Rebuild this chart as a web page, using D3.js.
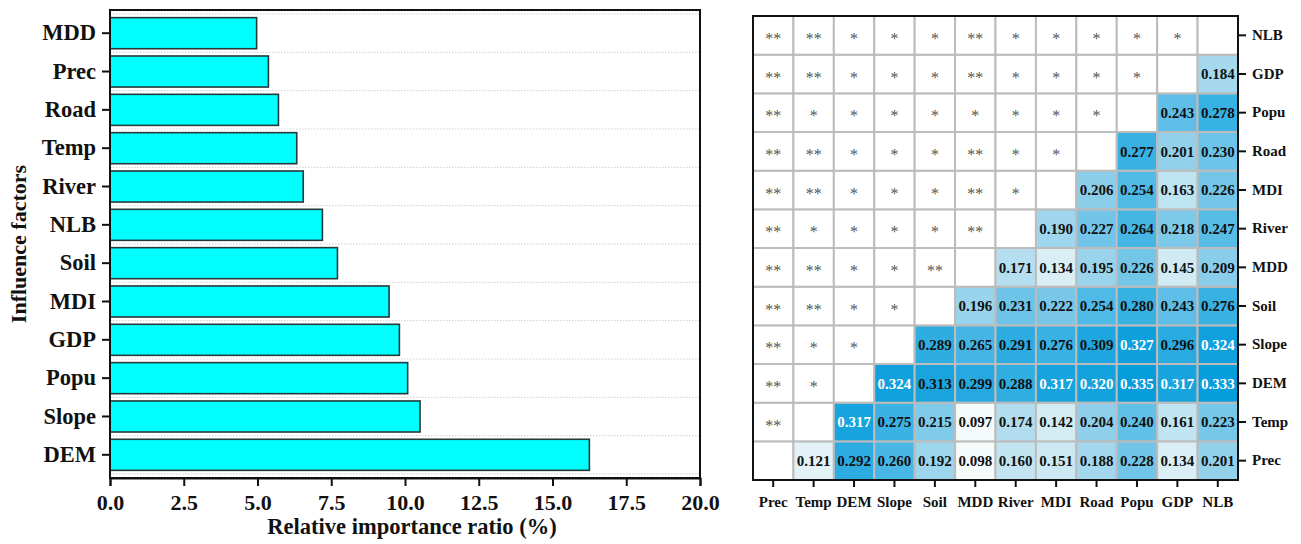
<!DOCTYPE html>
<html><head><meta charset="utf-8">
<script src="https://cdn.jsdelivr.net/npm/d3@7"></script>
<style>
html,body{margin:0;padding:0;background:#fff;}
svg{display:block;font-family:"Liberation Serif","Times New Roman",serif;}
</style></head>
<body><svg id="c" width="1301" height="544"></svg>
<script>
// ---------- data ----------
const barFactors = ["MDD","Prec","Road","Temp","River","NLB","Soil","MDI","GDP","Popu","Slope","DEM"];
const barValues  = [4.97, 5.37, 5.71, 6.33, 6.55, 7.20, 7.71, 9.46, 9.81, 10.09, 10.51, 16.25];
const xTicks = [0, 2.5, 5, 7.5, 10, 12.5, 15, 17.5, 20];

const hmVars = ["Prec","Temp","DEM","Slope","Soil","MDD","River","MDI","Road","Popu","GDP","NLB"];
// lower triangle values: row variable -> values for columns after it (in hmVars order)
const valPrec  = [0.121,0.292,0.260,0.192,0.098,0.160,0.151,0.188,0.228,0.134,0.201];
const valTemp  = [0.317,0.275,0.215,0.097,0.174,0.142,0.204,0.240,0.161,0.223];
const valDEM   = [0.324,0.313,0.299,0.288,0.317,0.320,0.335,0.317,0.333];
const valSlope = [0.289,0.265,0.291,0.276,0.309,0.327,0.296,0.324];
const valSoil  = [0.196,0.231,0.222,0.254,0.280,0.243,0.276];
const valMDD   = [0.171,0.134,0.195,0.226,0.145,0.209];
const valRiver = [0.190,0.227,0.264,0.218,0.247];
const valMDI   = [0.206,0.254,0.163,0.226];
const valRoad  = [0.277,0.201,0.230];
const valPopu  = [0.243,0.278];
const valGDP   = [0.184];
const valNLB   = [];
// significance marks: row variable -> marks for columns before it
const sigPrec  = [];
const sigTemp  = ["**"];
const sigDEM   = ["**","*"];
const sigSlope = ["**","*","*"];
const sigSoil  = ["**","**","*","*"];
const sigMDD   = ["**","**","*","*","**"];
const sigRiver = ["**","*","*","*","*","**"];
const sigMDI   = ["**","**","*","*","*","**","*"];
const sigRoad  = ["**","**","*","*","*","**","*","*"];
const sigPopu  = ["**","*","*","*","*","*","*","*","*"];
const sigGDP   = ["**","**","*","*","*","**","*","*","*","*"];
const sigNLB   = ["**","**","*","*","*","**","*","*","*","*","*"];

const valRows = [valPrec,valTemp,valDEM,valSlope,valSoil,valMDD,valRiver,valMDI,valRoad,valPopu,valGDP,valNLB];
const sigRows = [sigPrec,sigTemp,sigDEM,sigSlope,sigSoil,sigMDD,sigRiver,sigMDI,sigRoad,sigPopu,sigGDP,sigNLB];

const svg = d3.select("#c");

// ---------- left bar chart ----------
const L = {l:110, r:700, t:10, b:478};
const x = d3.scaleLinear().domain([0,20]).range([L.l, L.r]);
const y = d3.scaleBand().domain(barFactors).range([L.t, L.b]).paddingInner(0.19).paddingOuter(0.2);

const left = svg.append("g");
const gridYs = barFactors.map(f => y(f) - y.step()*y.paddingInner()/2)
  .concat([y(barFactors[barFactors.length-1]) + y.bandwidth() + y.step()*y.paddingInner()/2]);
left.selectAll("line.grid").data(gridYs).join("line")
  .attr("x1", L.l).attr("x2", L.r).attr("y1", d=>d).attr("y2", d=>d)
  .attr("stroke","#cfcfcf").attr("stroke-width",1).attr("stroke-dasharray","1.5,1.5");

left.selectAll("rect.bar").data(barFactors).join("rect")
  .attr("x", x(0)).attr("y", d=>y(d))
  .attr("width", (d,i)=>x(barValues[i])-x(0)).attr("height", y.bandwidth())
  .attr("fill","#00FFFF").attr("stroke","#263a3a").attr("stroke-width",1.6);

left.append("rect").attr("x",L.l).attr("y",L.t).attr("width",L.r-L.l).attr("height",L.b-L.t)
  .attr("fill","none").attr("stroke","#111").attr("stroke-width",2);

const xAx = left.append("g").attr("transform",`translate(0,${L.b})`)
  .call(d3.axisBottom(x).tickValues(xTicks).tickFormat(d3.format(".1f")).tickSizeOuter(0).tickSize(8).tickPadding(8));
xAx.select(".domain").attr("stroke","#111").attr("stroke-width",2);
xAx.selectAll(".tick line").attr("stroke","#111").attr("stroke-width",2);
xAx.selectAll("text").attr("font-size",22).attr("font-weight","bold").attr("fill","#111")
  .attr("font-family","Liberation Serif");

const yAx = left.append("g").attr("transform",`translate(${L.l},0)`)
  .call(d3.axisLeft(y).tickSizeOuter(0).tickSize(8).tickPadding(6));
yAx.select(".domain").remove();
yAx.selectAll(".tick line").attr("stroke","#111").attr("stroke-width",2);
yAx.selectAll("text").attr("font-size",22.5).attr("font-weight","bold").attr("fill","#111")
  .attr("font-family","Liberation Serif");

left.append("text").attr("x",412).attr("y",534).attr("text-anchor","middle")
  .attr("font-size",22.5).attr("font-weight","bold").attr("fill","#111").text("Relative importance ratio (%)");
left.append("text").attr("transform",`translate(26,${(L.t+L.b)/2}) rotate(-90)`).attr("text-anchor","middle")
  .attr("font-size",22).attr("font-weight","bold").attr("fill","#111").text("Influence factors");

// ---------- right heatmap ----------
const H = {l:753, r:1238, t:16, b:480};
const hx = d3.scaleBand().domain(hmVars).range([H.l, H.r]);
const hy = d3.scaleBand().domain(hmVars.slice().reverse()).range([H.t, H.b]);
const color = d3.scaleLinear().domain([0.095,0.15,0.20,0.26,0.33])
  .range(["#f7fbfb","#cde9f3","#94d1eb","#48b7e5","#0b9edc"]);

const cells = [];
hmVars.forEach((rv, i) => {
  hmVars.forEach((cv, j) => {
    if (j > i) cells.push({r:rv, c:cv, v:valRows[i][j-i-1], type:"val"});
    else if (j < i) cells.push({r:rv, c:cv, s:sigRows[i][j], type:"sig"});
    else cells.push({r:rv, c:cv, type:"diag"});
  });
});

const hm = svg.append("g");
hm.selectAll("rect.cell").data(cells).join("rect")
  .attr("x", d=>hx(d.c)).attr("y", d=>hy(d.r))
  .attr("width", hx.bandwidth()).attr("height", hy.bandwidth())
  .attr("fill", d=> d.type==="val" ? color(d.v) : "#ffffff")
  .attr("stroke","#bcbcbc").attr("stroke-width",2);

hm.selectAll("text.val").data(cells.filter(d=>d.type==="val")).join("text")
  .attr("x", d=>hx(d.c)+hx.bandwidth()/2).attr("y", d=>hy(d.r)+hy.bandwidth()/2)
  .attr("dy","0.36em").attr("text-anchor","middle")
  .attr("font-size",15).attr("font-weight","bold")
  .attr("fill", d=> d.v > 0.315 ? "#ffffff" : "#111")
  .text(d=>d3.format(".3f")(d.v));

hm.selectAll("text.sig").data(cells.filter(d=>d.type==="sig")).join("text")
  .attr("x", d=>hx(d.c)+hx.bandwidth()/2).attr("y", d=>hy(d.r)+hy.bandwidth()/2)
  .attr("dy","0.55em").attr("text-anchor","middle")
  .attr("font-size",16).attr("fill","#555")
  .text(d=>d.s);

hm.append("rect").attr("x",H.l).attr("y",H.t).attr("width",H.r-H.l).attr("height",H.b-H.t)
  .attr("fill","none").attr("stroke","#111").attr("stroke-width",2);

const hxAx = hm.append("g").attr("transform",`translate(0,${H.b})`)
  .call(d3.axisBottom(hx).tickSizeOuter(0).tickSize(7).tickPadding(9));
hxAx.select(".domain").remove();
hxAx.selectAll(".tick line").attr("stroke","#111").attr("stroke-width",2);
hxAx.selectAll("text").attr("font-size",15).attr("font-weight","bold").attr("fill","#111")
  .attr("font-family","Liberation Serif");

const hyAx = hm.append("g").attr("transform",`translate(${H.r},0)`)
  .call(d3.axisRight(hy).tickSizeOuter(0).tickSize(8).tickPadding(6));
hyAx.select(".domain").remove();
hyAx.selectAll(".tick line").attr("stroke","#111").attr("stroke-width",2);
hyAx.selectAll("text").attr("font-size",15).attr("font-weight","bold").attr("fill","#111")
  .attr("font-family","Liberation Serif");
</script></body></html>
